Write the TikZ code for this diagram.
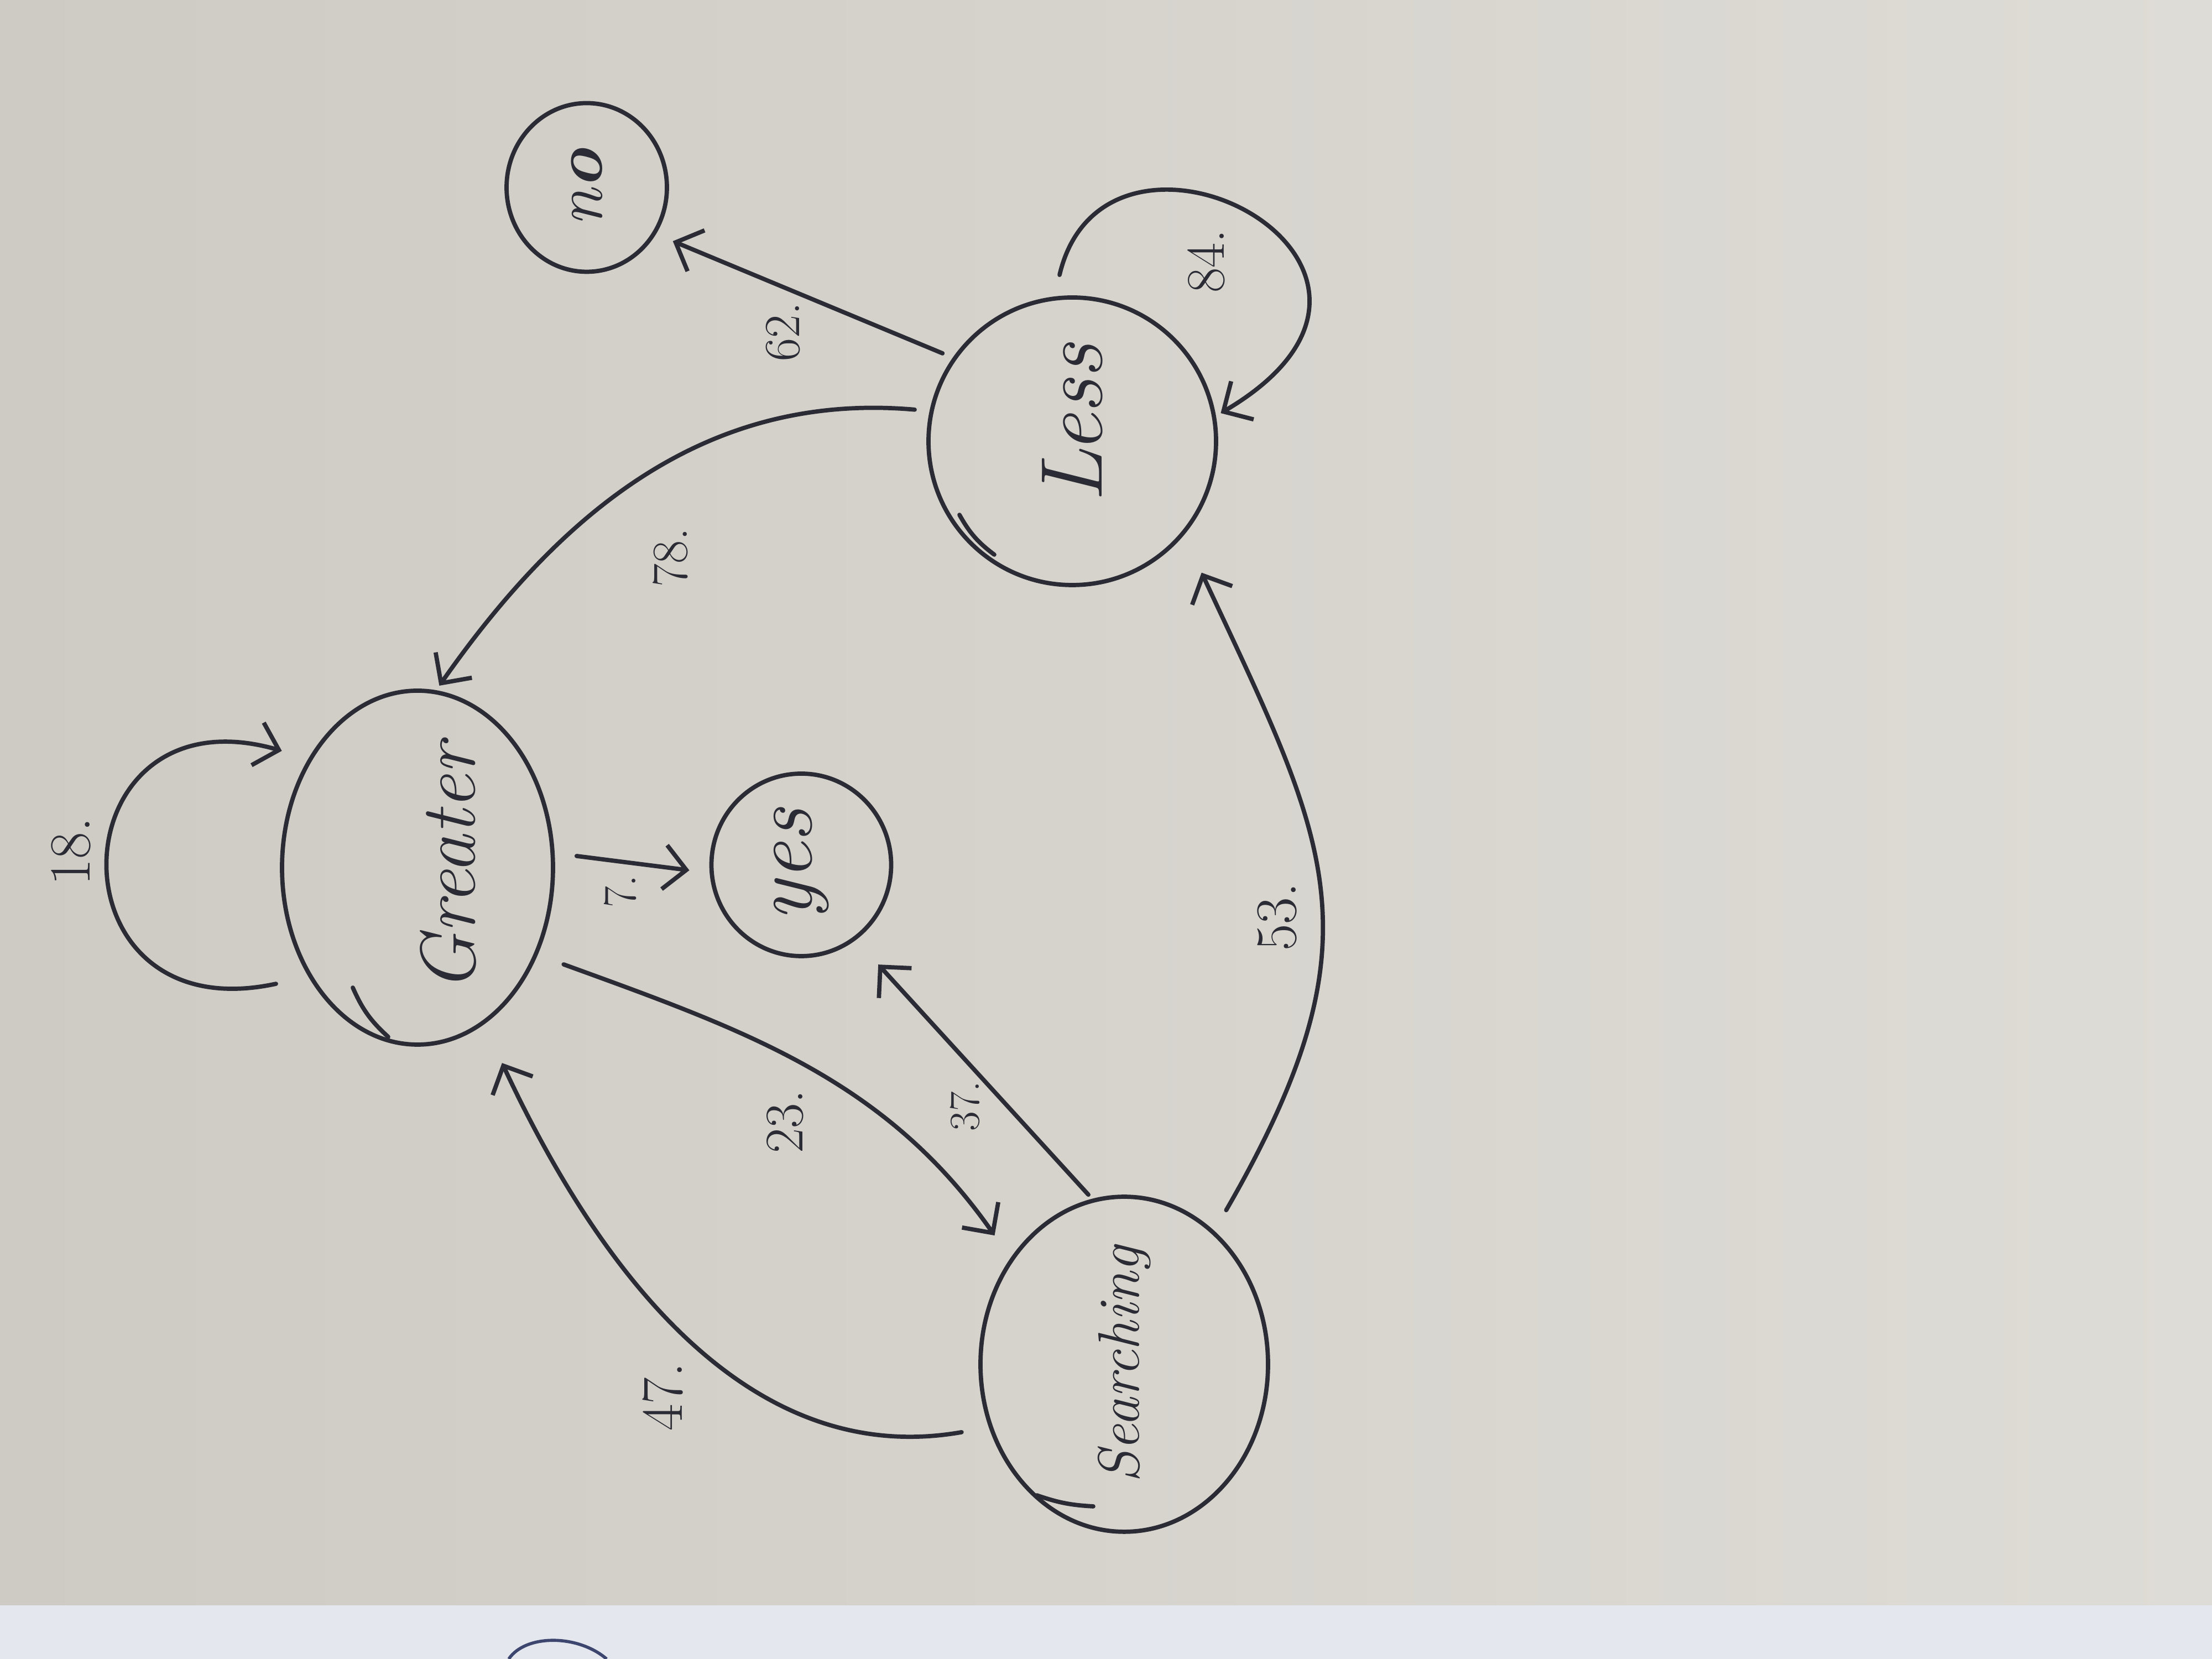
\documentclass[tikz,border=0pt]{standalone}
\usepackage{fontspec}
\usepackage{graphicx}
\usetikzlibrary{arrows.meta,shapes.geometric,calc}
\definecolor{paperL}{RGB}{206,203,196}
\definecolor{paperR}{RGB}{222,220,214}
\definecolor{stripc}{RGB}{228,231,238}
\definecolor{inkc}{RGB}{42,43,52}
\definecolor{inkblue}{RGB}{60,70,110}
\begin{document}
\begin{tikzpicture}[x=1cm,y=1cm,
  ink/.style={draw=inkc, line width=2.2pt, line cap=round},
  state/.style={ellipse, draw=inkc, line width=2.2pt, inner sep=0pt, text=inkc},
  arr/.style={ink, -{Straight Barb[length=4mm,width=8mm,line width=2.2pt]}},
  lab/.style={text=inkc, rotate=90, inner sep=0pt},
]
\useasboundingbox (0,0) rectangle (40,30);
\shade[left color=paperL, right color=paperR] (0,0.97) rectangle (40,30);
\fill[stripc] (0,0) rectangle (40,0.97);
\draw[draw=inkblue, line width=1.6pt] (9.2,0) .. controls (9.5,0.45) and (10.45,0.45) .. (10.97,0);

% states
\node[state, minimum width=4.9cm, minimum height=6.4cm] (G) at (7.55,14.31)
  {\hspace*{1.1cm}\rotatebox{90}{\fontsize{40}{48}\selectfont\itshape Greater}};
\node[state, minimum width=3.25cm, minimum height=3.3cm] (Y) at (14.49,14.36)
  {\rotatebox{90}{\fontsize{44}{52}\selectfont\itshape yes}};
\node[state, minimum width=5.2cm, minimum height=5.5cm] (S) at (20.33,5.33)
  {\rotatebox{90}{\fontsize{30}{36}\selectfont\itshape Searching}};
\node[state, minimum width=5.2cm, minimum height=5.2cm] (L) at (19.39,22.02)
  {\rotatebox{90}{\fontsize{45}{54}\selectfont\itshape\hspace*{0.66cm}Less}};
\node[state, minimum width=2.9cm, minimum height=3.05cm] (N) at (10.61,26.61)
  {\rotatebox{90}{\fontsize{35}{42}\selectfont\itshape n\textbf{o}}};

% overlap strokes of the hand-drawn outlines
\draw[ink] ($(G.center)+(-1.17,-2.17)$) to[bend right=12] ($(G.center)+(-0.53,-3.06)$);
\draw[ink] ($(S.center)+(-1.58,-2.37)$) to[bend right=8] ($(S.center)+(-0.56,-2.57)$);
\draw[ink] ($(L.center)+(-2.04,-1.33)$) to[bend right=12] ($(L.center)+(-1.41,-2.05)$);

% connectors
\draw[arr, shorten <=0.6cm, shorten >=0.5cm] (G.225) .. controls (0.8,11.3) and (1.0,17.6) .. (G.135);
\draw[arr, shorten <=0.4cm, shorten >=0.37cm] (G.6) -- (Y.185);
\draw[arr, shorten <=0.5cm, shorten >=0.5cm] (G.-36) to[out=-20,in=125] (S.137);
\draw[arr, shorten <=0.1cm, shorten >=0.6cm] (S.101) -- (Y.-54);
\draw[arr, shorten <=0.5cm, shorten >=0.77cm] (S.205) to[out=190,in=-65] (G.-67);
\draw[arr, shorten <=0.43cm, shorten >=0.75cm] (S.56) to[out=60,in=-65,looseness=1.25] (L.-40);
\draw[arr, shorten <=0.27cm, shorten >=0.1cm] (L.168) to[out=175,in=55] (G.84);
\draw[arr, shorten <=0.2cm, shorten >=0.33cm] (L.145) -- (N.-34);
\draw[arr, shorten <=0.4cm, shorten >=0.1cm] (L.97) .. controls (20.0,28.6) and (26.6,25.2) .. (L.10);

% labels
\node[lab, font=\fontsize{30}{36}\selectfont] (l18) at (1.28,14.6) {18.};
\node[lab, font=\fontsize{24}{30}\selectfont] (l7) at (11.22,13.88) {7.};
\node[lab, font=\fontsize{28}{34}\selectfont] (l23) at (14.2,9.72) {23.};
\node[lab, font=\fontsize{22}{28}\selectfont] (l37) at (17.45,10.0) {37.};
\node[lab, font=\fontsize{30}{36}\selectfont] (l47) at (11.99,4.74) {47.};
\node[lab, font=\fontsize{30}{36}\selectfont] (l53) at (23.09,13.42) {53.};
\node[lab, font=\fontsize{26}{32}\selectfont] (l78) at (12.12,19.92) {78.};
\node[lab, font=\fontsize{26}{32}\selectfont] (l62) at (14.16,24.0) {62.};
\node[lab, font=\fontsize{28}{34}\selectfont] (l84) at (21.81,25.28) {84.};
\end{tikzpicture}
\end{document}
